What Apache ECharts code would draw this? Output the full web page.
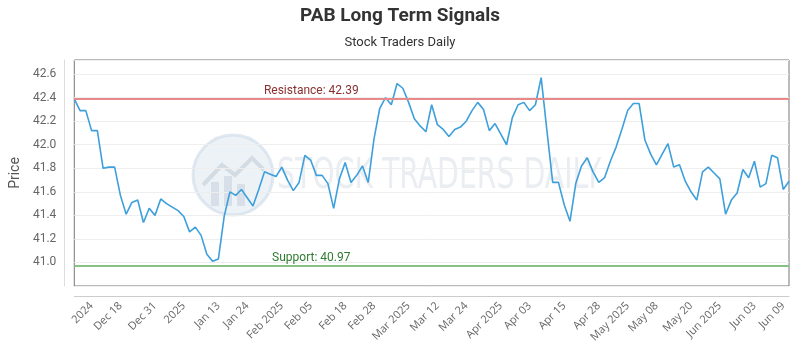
<!DOCTYPE html>
<html>
<head>
<meta charset="utf-8">
<title>PAB Long Term Signals</title>
<script src="https://cdn.jsdelivr.net/npm/echarts@6/dist/echarts.min.js"></script>
<style>
  html, body { margin: 0; padding: 0; background: #ffffff; }
  #chart { width: 800px; height: 350px; }
</style>
</head>
<body>
<div id="chart"></div>
<script>
// Daily closing prices, one per trading session
const prices = [
  42.39, 42.29, 42.29, 42.12, 42.12, 41.80, 41.81, 41.81, 41.57, 41.41,
  41.51, 41.53, 41.34, 41.46, 41.40, 41.54, 41.50, 41.47, 41.44, 41.39,
  41.26, 41.30, 41.23, 41.07, 41.01, 41.03, 41.39, 41.60, 41.57, 41.62,
  41.55, 41.48, 41.62, 41.77, 41.75, 41.73, 41.81, 41.70, 41.61, 41.68,
  41.91, 41.87, 41.74, 41.74, 41.67, 41.46, 41.71, 41.85, 41.68, 41.74,
  41.82, 41.68, 42.05, 42.31, 42.40, 42.34, 42.52, 42.48, 42.36, 42.22,
  42.16, 42.11, 42.34, 42.17, 42.13, 42.07, 42.13, 42.15, 42.20, 42.29,
  42.36, 42.30, 42.12, 42.18, 42.09, 42.00, 42.23, 42.34, 42.36, 42.29,
  42.34, 42.57, 42.12, 41.68, 41.68, 41.49, 41.35, 41.67, 41.82, 41.89,
  41.77, 41.68, 41.72, 41.86, 41.98, 42.13, 42.29, 42.35, 42.35, 42.04,
  41.92, 41.83, 41.92, 42.01, 41.81, 41.83, 41.69, 41.60, 41.53, 41.77,
  41.81, 41.76, 41.71, 41.41, 41.53, 41.59, 41.79, 41.72, 41.86, 41.64,
  41.67, 41.91, 41.89, 41.62, 41.69
];

// Session index used as the category for each price
const sessions = prices.map((_, i) => i);

// Date labels shown along the time axis and the sessions they sit on
const tickSessions = [3, 8, 14, 19, 25, 30, 36, 41, 47, 52, 58, 63, 68, 74, 79, 85, 91, 96, 101, 107, 112, 118, 123];
const tickLabels = ['2024', 'Dec 18', 'Dec 31', '2025', 'Jan 13', 'Jan 24', 'Feb 2025', 'Feb 05', 'Feb 18', 'Feb 28',
  'Mar 2025', 'Mar 12', 'Mar 24', 'Apr 2025', 'Apr 03', 'Apr 15', 'Apr 28', 'May 2025', 'May 08', 'May 20',
  'Jun 2025', 'Jun 03', 'Jun 09'];

// Signal levels
const resistance = 42.39;
const support = 40.97;

// Price axis range
const priceMin = 40.8;
const priceMax = 42.72;
const priceStep = 0.2;

const chart = echarts.init(document.getElementById('chart'), null, { renderer: 'canvas' });

const option = {
  animation: false,
  backgroundColor: '#ffffff',
  title: [
    {
      text: 'PAB Long Term Signals',
      left: 'center',
      top: 2,
      textStyle: { fontFamily: 'Liberation Sans Narrow, Roboto, sans-serif', fontSize: 19, fontWeight: 'bold', color: '#333333' }
    },
    {
      text: 'Stock Traders Daily',
      left: 'center',
      top: 31,
      textStyle: { fontFamily: 'Liberation Sans Narrow, Roboto, sans-serif', fontSize: 13, fontWeight: 'normal', color: '#333333' }
    }
  ],
  graphic: [
    {
      type: 'group',
      silent: true,
      z: 0,
      children: [
        {
          type: 'circle',
          shape: { cx: 233, cy: 175, r: 40 },
          style: { fill: 'rgba(214,226,238,0.45)', stroke: 'rgba(205,218,232,0.6)', lineWidth: 3 }
        },
        {
          type: 'polyline',
          shape: { points: [[203, 185], [222, 165], [235, 175], [252, 158], [264, 170]] },
          style: { fill: null, stroke: 'rgba(190,200,212,0.55)', lineWidth: 4 }
        },
        { type: 'rect', shape: { x: 211, y: 182, width: 8, height: 24 }, style: { fill: 'rgba(190,200,212,0.45)' } },
        { type: 'rect', shape: { x: 224, y: 176, width: 8, height: 30 }, style: { fill: 'rgba(190,200,212,0.45)' } },
        { type: 'rect', shape: { x: 237, y: 184, width: 8, height: 22 }, style: { fill: 'rgba(190,200,212,0.45)' } },
        {
          type: 'text',
          x: 277,
          y: 177,
          style: {
            text: 'STOCK TRADERS DAILY',
            fontFamily: 'DejaVu Sans Condensed, Liberation Sans Narrow, sans-serif',
            fontSize: 42,
            fill: 'rgba(205,212,222,0.42)',
            verticalAlign: 'middle',
            align: 'left'
          },
          scaleX: 0.75
        }
      ]
    }
  ],
  grid: {
    left: 71,
    right: 11,
    top: 60,
    bottom: 64,
    show: true,
    borderColor: '#777777',
    borderWidth: 1,
    backgroundColor: 'transparent'
  },
  xAxis: {
    type: 'category',
    data: sessions,
    boundaryGap: false,
    offset: 10,
    axisLine: { show: true, lineStyle: { color: '#cccccc', width: 1 } },
    axisTick: { show: false },
    splitLine: { show: false },
    axisLabel: {
      rotate: 45,
      margin: 8,
      color: '#666666',
      fontFamily: 'Open Sans, sans-serif',
      fontSize: 11,
      interval: (idx) => tickSessions.indexOf(idx) !== -1,
      formatter: (value, idx) => {
        const k = tickSessions.indexOf(Number(value));
        return k === -1 ? '' : tickLabels[k];
      }
    }
  },
  yAxis: {
    type: 'value',
    min: priceMin,
    max: priceMax,
    interval: priceStep,
    offset: 10,
    name: 'Price',
    nameLocation: 'middle',
    nameGap: 38,
    nameTextStyle: { fontFamily: 'Roboto, sans-serif', fontSize: 14, color: '#555555' },
    axisLine: { show: true, lineStyle: { color: '#dddddd', width: 1 } },
    axisTick: { show: false },
    axisLabel: {
      color: '#666666',
      fontFamily: 'Roboto, sans-serif',
      fontSize: 12,
      margin: 8,
      showMinLabel: false,
      showMaxLabel: false,
      formatter: (v) => v.toFixed(1)
    },
    splitLine: { show: true, lineStyle: { color: '#eeeeee', width: 1 } }
  },
  series: [
    {
      type: 'line',
      data: prices,
      showSymbol: false,
      symbol: 'none',
      z: 3,
      lineStyle: { color: '#3d9fdb', width: 1.6 },
      markLine: {
        silent: true,
        symbol: ['none', 'none'],
        animation: false,
        data: [
          {
            yAxis: resistance,
            lineStyle: { color: '#e88a8a', width: 2, type: 'solid' },
            label: {
              show: true,
              position: 'insideStartTop',
              align: 'center',
              distance: [237, 2],
              formatter: 'Resistance: ' + resistance.toFixed(2),
              color: '#8a3030',
              fontFamily: 'Roboto, sans-serif',
              fontSize: 12
            }
          },
          {
            yAxis: support,
            lineStyle: { color: '#86c286', width: 2, type: 'solid' },
            label: {
              show: true,
              position: 'insideStartTop',
              align: 'center',
              distance: [237, 2],
              formatter: 'Support: ' + support.toFixed(2),
              color: '#2f7a2f',
              fontFamily: 'Roboto, sans-serif',
              fontSize: 12
            }
          }
        ]
      }
    }
  ]
};

chart.setOption(option);
</script>
</body>
</html>
